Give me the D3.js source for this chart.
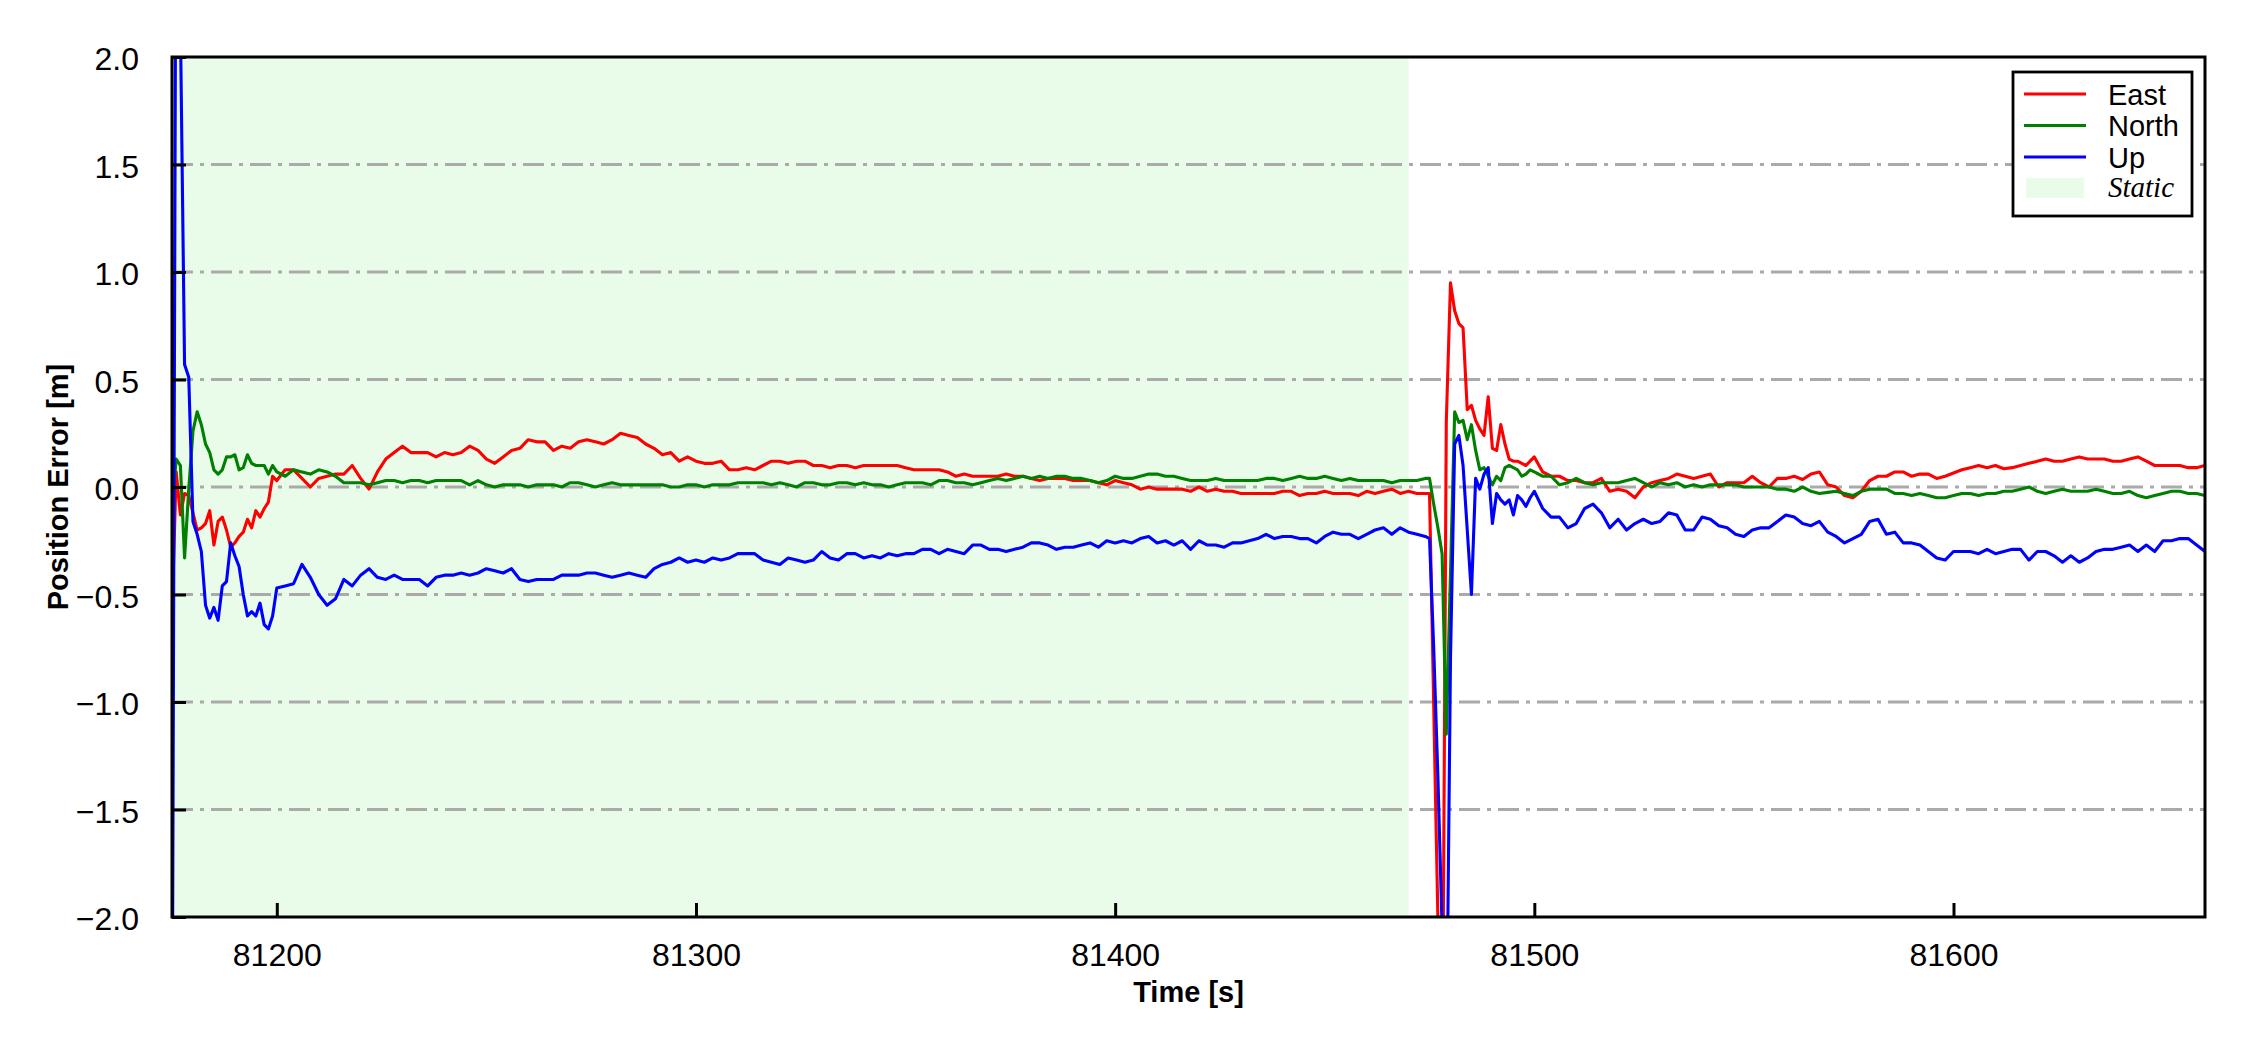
<!DOCTYPE html>
<html><head><meta charset="utf-8">
<script src="https://cdn.jsdelivr.net/npm/d3@7"></script>
<style>
html,body{margin:0;padding:0;background:#fff;}
svg{display:block;}
text{font-family:"Liberation Sans",Arial,sans-serif;}
</style></head>
<body><svg id="chart" width="2250" height="1050"></svg>
<script>
// ---------- data ----------
const times = [
 81175,81176,81177,81178,81179,81180,81181,81182,81183,81184,81185,81186,81187,81188,81189,81190,81191,81192,81193,81194,81195,81196,81197,81198,81199,81200,
 81202,81204,81206,81208,81210,81212,81214,81216,81218,81220,
 81222,81224,81226,81228,81230,81232,81234,81236,81238,81240,
 81242,81244,81246,81248,81250,81252,81254,81256,81258,81260,
 81262,81264,81266,81268,81270,81272,81274,81276,81278,81280,
 81282,81284,81286,81288,81290,81292,81294,81296,81298,81300,
 81302,81304,81306,81308,81310,81312,81314,81316,81318,81320,
 81322,81324,81326,81328,81330,81332,81334,81336,81338,81340,
 81342,81344,81346,81348,81350,81352,81354,81356,81358,81360,
 81362,81364,81366,81368,81370,81372,81374,81376,81378,81380,
 81382,81384,81386,81388,81390,81392,81394,81396,81398,81400,
 81402,81404,81406,81408,81410,81412,81414,81416,81418,81420,
 81422,81424,81426,81428,81430,81432,81434,81436,81438,81440,
 81442,81444,81446,81448,81450,81452,81454,81456,81458,81460,
 81462,81464,81466,81468,81470,81472,81474,
 81475,81476,81477,81478,81479,81480,81481,81482,81483,81484,81485,81486,81487,81488,81489,81490,81491,81492,81493,81494,81495,81496,81497,81498,81499,81500,
 81502,81504,81506,81508,81510,81512,81514,81516,81518,81520,
 81522,81524,81526,81528,81530,81532,81534,81536,81538,81540,
 81542,81544,81546,81548,81550,81552,81554,81556,81558,81560,
 81562,81564,81566,81568,81570,81572,81574,81576,81578,81580,
 81582,81584,81586,81588,81590,81592,81594,81596,81598,81600,
 81602,81604,81606,81608,81610,81612,81614,81616,81618,81620,
 81622,81624,81626,81628,81630,81632,81634,81636,81638,81640,
 81642,81644,81646,81648,81650,81652,81654,81656,81658,81660
];
const east = [
 -0.60,0.07,-0.13,-0.03,-0.04,-0.12,-0.20,-0.19,-0.17,-0.11,-0.27,-0.16,-0.14,-0.20,-0.28,-0.26,-0.23,-0.21,-0.15,-0.19,-0.11,-0.14,-0.10,-0.07,0.05,0.03,
 0.08,0.08,0.04,0.00,0.04,0.05,0.06,0.06,0.10,0.04,
 -0.01,0.07,0.13,0.16,0.19,0.16,0.16,0.16,0.14,0.16,
 0.15,0.16,0.19,0.17,0.13,0.11,0.14,0.17,0.18,0.22,
 0.21,0.21,0.17,0.19,0.18,0.21,0.22,0.21,0.20,0.22,
 0.25,0.24,0.23,0.20,0.18,0.15,0.16,0.12,0.14,0.12,
 0.11,0.11,0.12,0.08,0.08,0.09,0.08,0.10,0.12,0.12,
 0.11,0.12,0.12,0.10,0.10,0.09,0.10,0.10,0.09,0.10,
 0.10,0.10,0.10,0.10,0.09,0.08,0.08,0.08,0.08,0.07,
 0.05,0.06,0.05,0.05,0.05,0.05,0.06,0.05,0.05,0.04,
 0.03,0.04,0.04,0.04,0.03,0.03,0.03,0.02,0.01,0.03,
 0.02,0.01,-0.01,0.00,-0.01,-0.01,-0.01,-0.01,-0.02,0.00,
 -0.02,-0.01,-0.02,-0.02,-0.03,-0.03,-0.03,-0.03,-0.03,-0.02,
 -0.02,-0.04,-0.03,-0.03,-0.02,-0.03,-0.03,-0.03,-0.04,-0.02,
 -0.03,-0.02,-0.01,-0.03,-0.02,-0.03,-0.03,
 -0.03,-1.02,-2.01,-3.00,0.30,0.95,0.82,0.76,0.74,0.36,0.38,0.31,0.27,0.24,0.42,0.18,0.17,0.29,0.20,0.13,0.12,0.12,0.11,0.10,0.12,0.14,
 0.07,0.05,0.05,0.03,0.03,0.02,0.02,0.04,-0.02,-0.01,
 -0.02,-0.05,0.00,0.02,0.03,0.04,0.06,0.05,0.04,0.05,
 0.06,0.00,0.02,0.02,0.02,0.05,0.02,0.00,0.04,0.04,
 0.05,0.035,0.06,0.07,0.01,0.00,-0.04,-0.05,-0.02,0.03,
 0.05,0.05,0.07,0.07,0.05,0.06,0.06,0.04,0.05,0.065,
 0.08,0.09,0.10,0.09,0.10,0.085,0.09,0.10,0.11,0.12,
 0.13,0.12,0.12,0.13,0.14,0.13,0.13,0.13,0.12,0.12,
 0.13,0.14,0.12,0.10,0.10,0.10,0.10,0.09,0.09,0.10
];
const north = [
 -0.10,0.13,0.10,-0.33,-0.01,0.26,0.35,0.29,0.20,0.16,0.08,0.06,0.08,0.14,0.14,0.15,0.08,0.09,0.15,0.11,0.10,0.10,0.10,0.06,0.10,0.07,
 0.05,0.08,0.07,0.06,0.08,0.07,0.05,0.02,0.02,0.02,
 0.01,0.02,0.03,0.03,0.02,0.03,0.03,0.02,0.03,0.03,
 0.03,0.03,0.01,0.03,0.01,0.00,0.01,0.01,0.01,0.00,
 0.01,0.01,0.01,0.00,0.02,0.02,0.01,0.00,0.01,0.02,
 0.01,0.01,0.01,0.01,0.01,0.01,0.00,0.00,0.01,0.01,
 0.00,0.01,0.01,0.01,0.02,0.02,0.02,0.02,0.01,0.02,
 0.01,0.00,0.02,0.02,0.01,0.01,0.02,0.02,0.01,0.02,
 0.01,0.01,0.00,0.01,0.02,0.02,0.02,0.01,0.03,0.03,
 0.02,0.02,0.01,0.02,0.03,0.04,0.03,0.04,0.05,0.04,
 0.05,0.04,0.05,0.05,0.04,0.04,0.03,0.02,0.03,0.05,
 0.04,0.04,0.05,0.06,0.06,0.05,0.05,0.04,0.03,0.03,
 0.03,0.04,0.03,0.03,0.03,0.03,0.03,0.04,0.04,0.03,
 0.04,0.05,0.04,0.04,0.05,0.04,0.03,0.04,0.03,0.03,
 0.03,0.03,0.02,0.03,0.03,0.03,0.04,
 0.04,-0.08,-0.19,-0.31,-1.15,-0.40,0.35,0.30,0.31,0.22,0.29,0.17,0.08,0.09,0.05,0.01,0.05,0.03,0.09,0.10,0.09,0.08,0.05,0.06,0.08,0.07,
 0.05,0.05,0.01,0.02,0.04,0.02,0.01,0.02,0.02,0.02,
 0.03,0.04,0.02,0.00,0.02,0.01,0.02,0.00,0.01,0.00,
 0.01,0.01,0.01,0.01,0.00,0.00,0.00,0.00,-0.01,-0.01,
 -0.02,0.00,-0.02,-0.03,-0.025,-0.02,-0.03,-0.04,-0.02,-0.01,
 -0.01,-0.01,-0.03,-0.03,-0.04,-0.03,-0.04,-0.05,-0.05,-0.04,
 -0.03,-0.03,-0.04,-0.03,-0.03,-0.02,-0.02,-0.01,0.00,-0.02,
 -0.03,-0.02,-0.01,-0.02,-0.02,-0.02,-0.01,-0.02,-0.03,-0.03,
 -0.02,-0.04,-0.05,-0.04,-0.03,-0.02,-0.02,-0.03,-0.03,-0.04
];
const up = [
 -3.00,3.20,2.16,0.57,0.51,-0.16,-0.22,-0.30,-0.55,-0.61,-0.56,-0.62,-0.46,-0.44,-0.26,-0.32,-0.37,-0.50,-0.60,-0.58,-0.60,-0.54,-0.64,-0.66,-0.60,-0.47,
 -0.46,-0.45,-0.36,-0.42,-0.50,-0.55,-0.52,-0.43,-0.46,-0.41,
 -0.38,-0.42,-0.43,-0.41,-0.43,-0.43,-0.43,-0.46,-0.42,-0.41,
 -0.41,-0.40,-0.41,-0.40,-0.38,-0.39,-0.40,-0.38,-0.43,-0.44,
 -0.43,-0.43,-0.43,-0.41,-0.41,-0.41,-0.40,-0.40,-0.41,-0.42,
 -0.41,-0.40,-0.41,-0.42,-0.38,-0.36,-0.35,-0.33,-0.35,-0.34,
 -0.35,-0.33,-0.34,-0.33,-0.31,-0.31,-0.31,-0.34,-0.35,-0.36,
 -0.33,-0.34,-0.35,-0.34,-0.30,-0.33,-0.34,-0.31,-0.31,-0.33,
 -0.32,-0.33,-0.31,-0.32,-0.31,-0.31,-0.29,-0.29,-0.31,-0.29,
 -0.30,-0.31,-0.27,-0.27,-0.29,-0.29,-0.30,-0.29,-0.28,-0.26,
 -0.26,-0.27,-0.29,-0.28,-0.28,-0.27,-0.26,-0.28,-0.25,-0.26,
 -0.25,-0.26,-0.24,-0.23,-0.26,-0.25,-0.27,-0.25,-0.29,-0.25,
 -0.27,-0.27,-0.28,-0.26,-0.26,-0.25,-0.24,-0.22,-0.24,-0.23,
 -0.23,-0.24,-0.24,-0.26,-0.23,-0.21,-0.22,-0.22,-0.24,-0.22,
 -0.20,-0.19,-0.22,-0.19,-0.21,-0.22,-0.23,
 -0.24,-0.75,-1.35,-2.05,-2.75,-0.80,0.20,0.24,0.10,-0.20,-0.50,0.04,-0.01,0.06,0.09,-0.17,-0.03,-0.06,-0.08,-0.06,-0.13,-0.04,-0.06,-0.09,-0.05,-0.02,
 -0.10,-0.14,-0.14,-0.19,-0.17,-0.10,-0.08,-0.12,-0.19,-0.15,
 -0.20,-0.17,-0.15,-0.17,-0.16,-0.12,-0.13,-0.20,-0.20,-0.14,
 -0.15,-0.18,-0.19,-0.22,-0.23,-0.20,-0.19,-0.19,-0.16,-0.13,
 -0.14,-0.17,-0.18,-0.16,-0.21,-0.23,-0.26,-0.24,-0.22,-0.16,
 -0.15,-0.22,-0.21,-0.26,-0.26,-0.27,-0.30,-0.33,-0.34,-0.30,
 -0.30,-0.30,-0.31,-0.29,-0.31,-0.30,-0.29,-0.29,-0.34,-0.30,
 -0.30,-0.32,-0.35,-0.32,-0.35,-0.33,-0.30,-0.29,-0.29,-0.28,
 -0.27,-0.30,-0.27,-0.30,-0.25,-0.25,-0.24,-0.24,-0.27,-0.30
];
const seriesNames = ["East", "North", "Up"];
const seriesColors = ["#ff0000", "#008000", "#0000ff"];
const staticSpan = [81175, 81470];
const xDomain = [81175, 81660];
const yDomain = [-2.0, 2.0];
const xTicks = [81200, 81300, 81400, 81500, 81600];
const yTicks = [-2.0, -1.5, -1.0, -0.5, 0.0, 0.5, 1.0, 1.5, 2.0];
const gridValues = [-1.5, -1.0, -0.5, 0.0, 0.5, 1.0, 1.5];
const xLabel = "Time [s]";
const yLabel = "Position Error [m]";
const staticLabel = "Static";

// ---------- layout ----------
const L = 172, R = 2205, T = 57, B = 917;
const svg = d3.select("#chart");
svg.append("rect").attr("width", 2250).attr("height", 1050).attr("fill", "#fff");

const x = d3.scaleLinear().domain(xDomain).range([L, R]);
const y = d3.scaleLinear().domain(yDomain).range([B, T]);

svg.append("defs").append("clipPath").attr("id", "clip")
  .append("rect").attr("x", L).attr("y", T).attr("width", R - L).attr("height", B - T);

const plot = svg.append("g").attr("clip-path", "url(#clip)");
const staticFill = "#e9fce9";
plot.append("rect")
  .attr("x", x(staticSpan[0])).attr("y", T)
  .attr("width", x(staticSpan[1]) - x(staticSpan[0])).attr("height", B - T)
  .attr("fill", staticFill);

// grid
plot.selectAll("line.grid").data(gridValues).join("line")
  .attr("class", "grid")
  .attr("x1", L).attr("x2", R)
  .attr("y1", d => y(d)).attr("y2", d => y(d))
  .attr("stroke", "#aaaaaa").attr("stroke-width", 3.2)
  .attr("stroke-dasharray", "21,7,4,7");

// lines
const allSeries = [east, north, up];
const line = d3.line().x((d, i) => x(times[i])).y(d => y(d));
allSeries.forEach((vals, k) => {
  plot.append("path").datum(vals)
    .attr("d", line)
    .attr("fill", "none")
    .attr("stroke", seriesColors[k])
    .attr("stroke-width", 3.1)
    .attr("stroke-linejoin", "round");
});

// axes
const fmtY = d => (d < 0 ? "\u2212" : "") + Math.abs(d).toFixed(1);
const xAxis = d3.axisBottom(x).tickValues(xTicks).tickFormat(d3.format("d"))
  .tickSizeInner(-14).tickSizeOuter(0).tickPadding(26);
const yAxis = d3.axisLeft(y).tickValues(yTicks).tickFormat(fmtY)
  .tickSizeInner(-14).tickSizeOuter(0).tickPadding(33);

const gx = svg.append("g").attr("transform", `translate(0,${B})`).call(xAxis);
const gy = svg.append("g").attr("transform", `translate(${L},0)`).call(yAxis);
[gx, gy].forEach(g => {
  g.select(".domain").remove();
  g.selectAll(".tick line").attr("stroke", "#000").attr("stroke-width", 3);
  g.selectAll(".tick text").attr("fill", "#000").attr("font-size", 32)
    .attr("font-family", "'Liberation Sans', Arial, sans-serif");
});
gx.selectAll(".tick text").attr("dy", "0.71em");
gy.selectAll(".tick text").attr("dy", "0.40em");

// frame
svg.append("rect").attr("x", L).attr("y", T).attr("width", R - L).attr("height", B - T)
  .attr("fill", "none").attr("stroke", "#000").attr("stroke-width", 3);

// axis labels
svg.append("text").attr("x", (L + R) / 2).attr("y", 1002)
  .attr("text-anchor", "middle").attr("font-size", 29).attr("font-weight", "bold")
  .text(xLabel);
svg.append("text").attr("transform", `translate(68,${(T + B) / 2}) rotate(-90)`)
  .attr("text-anchor", "middle").attr("font-size", 29).attr("font-weight", "bold")
  .text(yLabel);

// legend
const lg = svg.append("g");
lg.append("rect").attr("x", 2013).attr("y", 72).attr("width", 179).attr("height", 144)
  .attr("fill", "#fff").attr("stroke", "#000").attr("stroke-width", 2.8);
const rowY = [94, 125.5, 157];
seriesNames.forEach((n, k) => {
  lg.append("line").attr("x1", 2024).attr("x2", 2086).attr("y1", rowY[k]).attr("y2", rowY[k])
    .attr("stroke", seriesColors[k]).attr("stroke-width", 3.1);
  lg.append("text").attr("x", 2108).attr("y", rowY[k] + 10.5).attr("font-size", 29).text(n);
});
lg.append("rect").attr("x", 2026).attr("y", 178).attr("width", 58).attr("height", 20).attr("fill", staticFill);
lg.append("text").attr("x", 2108).attr("y", 197).attr("font-size", 29)
  .attr("font-style", "italic").style("font-family", "'Liberation Serif', 'Times New Roman', serif")
  .text(staticLabel);
</script></body></html>
